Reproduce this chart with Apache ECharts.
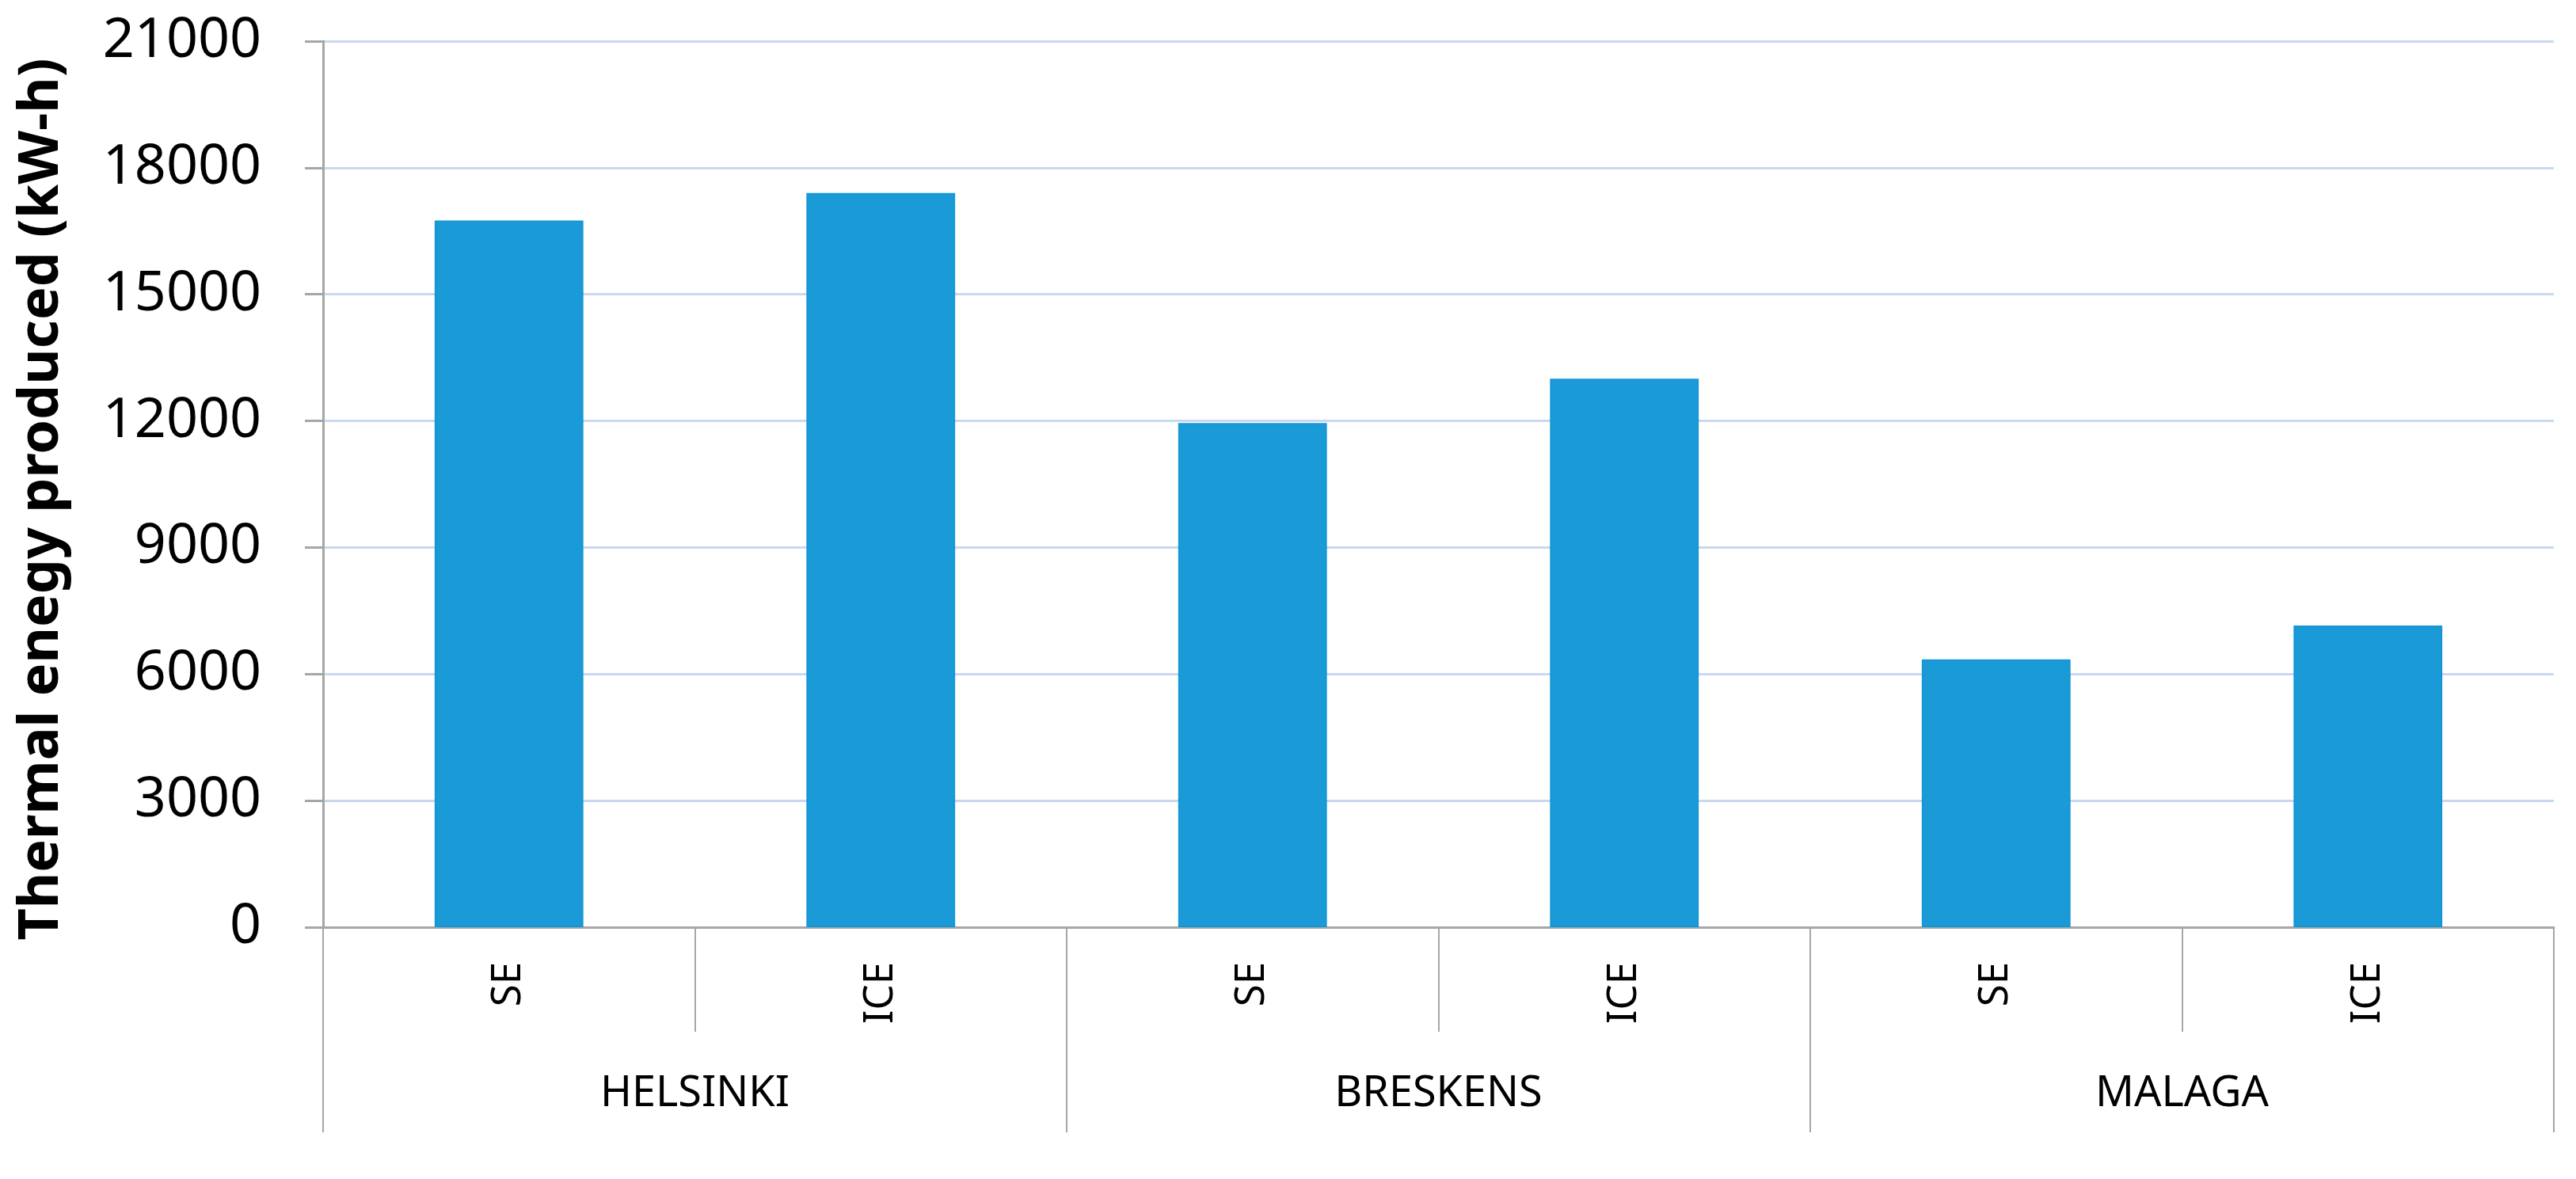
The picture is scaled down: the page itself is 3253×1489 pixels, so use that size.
<!DOCTYPE html>
<html>
<head>
<meta charset="utf-8">
<script src="https://cdn.jsdelivr.net/npm/echarts@6/dist/echarts.min.js"></script>
<style>
  html, body { margin: 0; padding: 0; background: #fff; }
  #chart { width: 3253px; height: 1489px; }
</style>
</head>
<body>
<div id="chart"></div>
<script>
// two-level category axis: engine type inside each city
const cities = ['HELSINKI', 'BRESKENS', 'MALAGA']
const engineTypes = ['SE', 'ICE', 'SE', 'ICE', 'SE', 'ICE']
const thermalEnergy = [16750, 17400, 11950, 13000, 6350, 7150]
const yTicks = [0, 3000, 6000, 9000, 12000, 15000, 18000, 21000]

const chart = echarts.init(document.getElementById('chart'))

const gray = '#a6a6a6'
const font = '"Noto Sans", "Open Sans", sans-serif'

const option = {
  backgroundColor: '#ffffff',
  animation: false,
  grid: {
    left: 408,
    right: 28,
    top: 52,
    bottom: 318,
    containLabel: false,
    outerBoundsMode: 'none'
  },
  xAxis: [
    {
      type: 'category',
      position: 'bottom',
      data: engineTypes,
      axisLine: { show: true, lineStyle: { color: gray, width: 3 } },
      axisTick: {
        show: true,
        interval: 0,
        alignWithLabel: false,
        length: 132,
        lineStyle: { color: gray, width: 2 }
      },
      axisLabel: {
        interval: 0,
        rotate: 90,
        margin: 44,
        color: '#000',
        fontFamily: font,
        fontSize: 51
      },
      splitLine: { show: false }
    },
    {
      // outer level: city names, no series on it
      type: 'category',
      position: 'bottom',
      data: cities,
      axisLine: { show: false },
      axisTick: {
        show: true,
        interval: 0,
        alignWithLabel: false,
        length: 259,
        lineStyle: { color: gray, width: 2 }
      },
      axisLabel: {
        interval: 0,
        margin: 184,
        color: '#000',
        fontFamily: font,
        fontSize: 54
      },
      splitLine: { show: false }
    }
  ],
  yAxis: {
    type: 'value',
    min: yTicks[0],
    max: yTicks[yTicks.length - 1],
    interval: yTicks[1] - yTicks[0],
    name: 'Thermal enegy produced (kW-h)',
    nameLocation: 'middle',
    nameRotate: 90,
    nameGap: 320,
    nameTextStyle: {
      color: '#000',
      fontFamily: font,
      fontWeight: 'bold',
      fontSize: 70,
      padding: [0, 38, 0, 0]
    },
    axisLine: { show: true, lineStyle: { color: gray, width: 3 } },
    axisTick: { show: true, length: 23, lineStyle: { color: gray, width: 3 } },
    axisLabel: {
      margin: 78,
      color: '#000',
      fontFamily: font,
      fontSize: 70,
      formatter: (v) => String(v)
    },
    splitLine: { show: true, lineStyle: { color: '#c8d9ef', width: 3 } }
  },
  series: [
    {
      type: 'bar',
      xAxisIndex: 0,
      data: thermalEnergy,
      barCategoryGap: '60%',
      itemStyle: { color: '#1a9bd7', borderColor: '#1496d4', borderWidth: 2 }
    }
  ]
}

chart.setOption(option)
</script>
</body>
</html>
